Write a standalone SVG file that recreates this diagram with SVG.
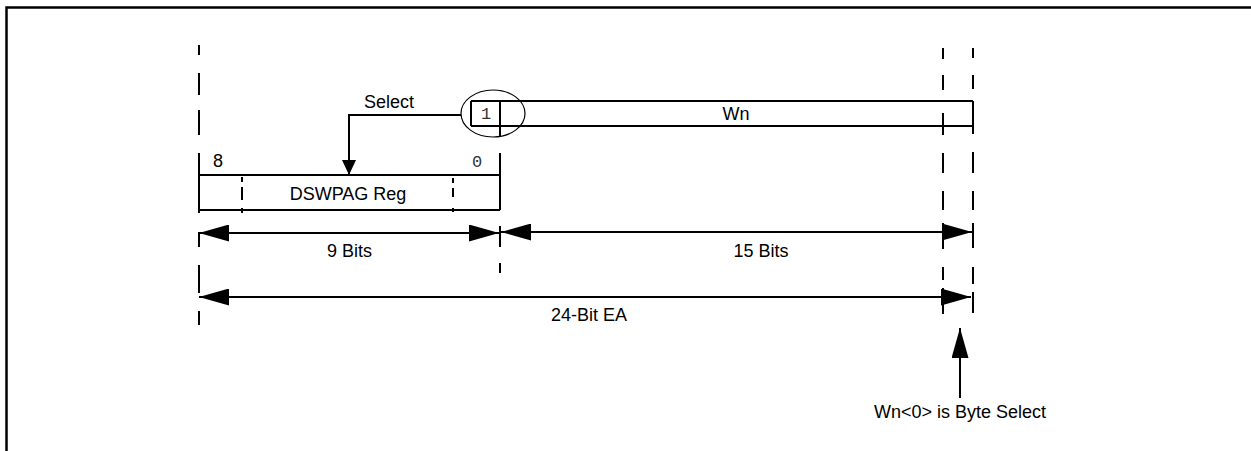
<svg xmlns="http://www.w3.org/2000/svg" width="1251" height="451" viewBox="0 0 1251 451">
<style>
.ln{stroke:#000;stroke-width:2;fill:none}
.thin{stroke:#000;stroke-width:1.2;fill:none}
.lbl{font-family:"Liberation Sans",Arial,sans-serif;font-size:18px;fill:#000}
.mono{font-family:"Liberation Mono","Courier New",monospace;font-size:17px;fill:#333}
</style>
<defs>
<marker id="ah" viewBox="0 0 30 17" refX="30" refY="8.5" markerWidth="30" markerHeight="17" markerUnits="userSpaceOnUse" orient="auto-start-reverse">
<path d="M0,0 L30,8.5 L0,17 Z" fill="#000"/>
</marker>
<marker id="ahs" viewBox="0 0 15 14" refX="15" refY="7" markerWidth="15" markerHeight="14" markerUnits="userSpaceOnUse" orient="auto">
<path d="M0,0 L15,7 L0,14 Z" fill="#000"/>
</marker>
</defs>
<rect width="1251" height="451" fill="#fff"/>
<path d="M6.5,451 V7.5 H1251" stroke="#000" stroke-width="2.5" fill="none"/>

<g id="guides">
<path class="ln" d="M199,45V55 M199,73V95 M199,110V135 M199,232V247 M199,265V293 M199,311V325"/>
<path class="ln" d="M500,226V247 M500,263V273"/>
<path class="ln" d="M943,48V59 M943,75V90 M943,113V135 M943,153V173 M943,191V210 M943,223V249 M943,267V280 M943,288V314"/>
<path class="ln" d="M973,48V58 M973,75V89 M973,152V173 M973,191V210 M973,223V248 M973,267V284 M973,292V313"/>
</g>

<g id="dswpag">
<path class="ln" d="M199,153V213 M500,153V210 M199,175H500 M199,210H500"/>
<path class="ln" d="M242,177V182 M242,187V200 M242,208V213 M453,178V183 M453,188V197 M453,208V212"/>
<text class="lbl" x="213" y="167" font-size="17">8</text>
<text class="mono" x="477" y="167" text-anchor="middle">0</text>
<text class="lbl" x="348" y="200" text-anchor="middle">DSWPAG Reg</text>
</g>

<g id="wn">
<path class="ln" d="M471,101H973 M471,126H973 M471,101V126 M500,101V137 M973,101V134"/>
<text class="mono" x="486" y="119" text-anchor="middle">1</text>
<text class="lbl" x="736" y="120" text-anchor="middle">Wn</text>
<ellipse class="thin" cx="493" cy="113.5" rx="32" ry="23.5"/>
</g>

<g id="connectors">
<path class="ln" d="M461,115H349V175" marker-end="url(#ahs)"/>
<line class="ln" x1="199" y1="233" x2="499" y2="233" marker-start="url(#ah)" marker-end="url(#ah)"/>
<line class="ln" x1="501" y1="232" x2="972" y2="232" marker-start="url(#ah)" marker-end="url(#ah)"/>
<line class="ln" x1="199" y1="297" x2="971" y2="297" marker-start="url(#ah)" marker-end="url(#ah)"/>
<line class="ln" x1="960" y1="398" x2="960" y2="328" marker-end="url(#ah)"/>
</g>

<g id="labels">
<text class="lbl" x="364" y="108">Select</text>
<text class="lbl" x="349.5" y="257" text-anchor="middle">9 Bits</text>
<text class="lbl" x="761" y="257" text-anchor="middle">15 Bits</text>
<text class="lbl" x="589" y="321" text-anchor="middle">24-Bit EA</text>
<text class="lbl" x="960" y="418" text-anchor="middle">Wn&lt;0&gt; is Byte Select</text>
</g>
</svg>
